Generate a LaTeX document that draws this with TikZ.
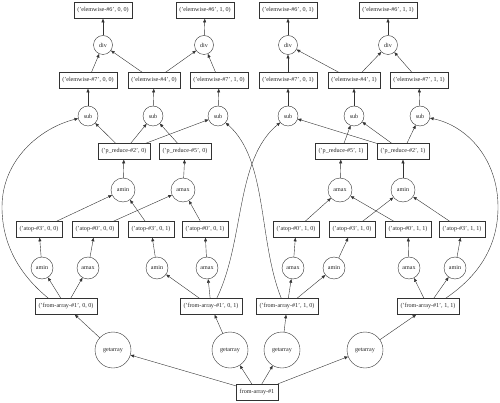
\documentclass[tikz,border=0pt]{standalone}
\usepackage{fontspec}
\setmainfont{Liberation Serif}
\usetikzlibrary{arrows.meta}
\begin{document}
\begin{tikzpicture}[x=1pt,y=-1pt,
  every node/.style={font=\fontsize{6.1}{7.3}\selectfont, draw=black!80, line width=0.4pt, text=black!85},
  box/.style={rectangle, inner xsep=3.5pt, inner ysep=0pt, minimum height=16pt},
  circ/.style={circle, inner sep=0pt, minimum size=#1},
  edge/.style={draw=black!80, line width=0.4pt, -{Triangle[length=3.6pt,width=3pt]}}]
\useasboundingbox (0,0) rectangle (500,403);
% top row
\node[box] (e6a) at (103,10.5) {('elemwise-\#6', 0, 0)};
\node[box] (e6b) at (205,10.5) {('elemwise-\#6', 1, 0)};
\node[box] (e6c) at (288,10.5) {('elemwise-\#6', 0, 1)};
\node[box] (e6d) at (388,10.5) {('elemwise-\#6', 1, 1)};
% div
\node[circ=19pt] (d1) at (103,45) {div};
\node[circ=19pt] (d2) at (204,45) {div};
\node[circ=19pt] (d3) at (288,45) {div};
\node[circ=19pt] (d4) at (388,45) {div};
% elemwise 7 / 4
\node[box] (e7a) at (88,80.5) {('elemwise-\#7', 0, 0)};
\node[box] (e4a) at (154,80.5) {('elemwise-\#4', 0)};
\node[box] (e7b) at (219,80.5) {('elemwise-\#7', 1, 0)};
\node[box] (e7c) at (288,80.5) {('elemwise-\#7', 0, 1)};
\node[box] (e4b) at (354,80.5) {('elemwise-\#4', 1)};
\node[box] (e7d) at (419,80.5) {('elemwise-\#7', 1, 1)};
% sub
\node[circ=20pt] (s1) at (88,116) {sub};
\node[circ=20pt] (s2) at (153,116) {sub};
\node[circ=20pt] (s3) at (218,116) {sub};
\node[circ=20pt] (s4) at (288,116) {sub};
\node[circ=20pt] (s5) at (354,116) {sub};
\node[circ=20pt] (s6) at (420,116) {sub};
% p_reduce
\node[box] (p2a) at (124,151.5) {('p\_reduce-\#2', 0)};
\node[box] (p5a) at (185,151.5) {('p\_reduce-\#5', 0)};
\node[box] (p5b) at (341,151.5) {('p\_reduce-\#5', 1)};
\node[box] (p2b) at (403,151.5) {('p\_reduce-\#2', 1)};
% upper amin/amax
\node[circ=24pt] (um1) at (123,190) {amin};
\node[circ=24pt] (ux1) at (183,190) {amax};
\node[circ=24pt] (ux2) at (340,190) {amax};
\node[circ=24pt] (um2) at (403,190) {amin};
% atop
\node[box] (t1) at (39,229.5) {('atop-\#3', 0, 0)};
\node[box] (t2) at (95,229.5) {('atop-\#0', 0, 0)};
\node[box] (t3) at (151,229.5) {('atop-\#3', 0, 1)};
\node[box] (t4) at (205,229.5) {('atop-\#0', 0, 1)};
\node[box] (t5) at (296,229.5) {('atop-\#0', 1, 0)};
\node[box] (t6) at (352,229.5) {('atop-\#3', 1, 0)};
\node[box] (t7) at (408,229.5) {('atop-\#0', 1, 1)};
\node[box] (t8) at (462,229.5) {('atop-\#3', 1, 1)};
% lower amin/amax
\node[circ=22pt] (l1) at (42,268) {amin};
\node[circ=22pt] (l2) at (88,268) {amax};
\node[circ=22pt] (l3) at (157,268) {amin};
\node[circ=22pt] (l4) at (207,268) {amax};
\node[circ=22pt] (l5) at (293,268) {amax};
\node[circ=22pt] (l6) at (334,268) {amin};
\node[circ=22pt] (l7) at (409,268) {amax};
\node[circ=22pt] (l8) at (455,268) {amin};
% from-array chunks
\node[box] (f1) at (66,306.5) {('from-array-\#1', 0, 0)};
\node[box] (f2) at (211,306.5) {('from-array-\#1', 0, 1)};
\node[box] (f3) at (287,306.5) {('from-array-\#1', 1, 0)};
\node[box] (f4) at (428,306.5) {('from-array-\#1', 1, 1)};
% getarray
\node[circ=36pt] (g1) at (113,350) {getarray};
\node[circ=36pt] (g2) at (230,350) {getarray};
\node[circ=36pt] (g3) at (282,350) {getarray};
\node[circ=36pt] (g4) at (365,350) {getarray};
% root
\node[box] (r) at (257,392) {from-array-\#1};
% edges
\foreach \a/\b in {r/g1,r/g2,r/g3,r/g4,g1/f1,g2/f2,g3/f3,g4/f4,
  f1/l1,f1/l2,f2/l3,f2/l4,f3/l5,f3/l6,f4/l7,f4/l8,
  l1/t1,l2/t2,l3/t3,l4/t4,l5/t5,l6/t6,l7/t7,l8/t8,
  t1/um1,t3/um1,t2/ux1,t4/ux1,t5/ux2,t7/ux2,t6/um2,t8/um2,
  um1/p2a,ux1/p5a,ux2/p5b,um2/p2b,
  p2a/s1,p2a/s2,p2a/s3,p5a/s2,p2b/s4,p2b/s5,p2b/s6,p5b/s5,
  s1/e7a,s2/e4a,s3/e7b,s4/e7c,s5/e4b,s6/e7d,
  e7a/d1,e4a/d1,e4a/d2,e7b/d2,e7c/d3,e4b/d3,e4b/d4,e7d/d4,
  d1/e6a,d2/e6b,d3/e6c,d4/e6d}
  \draw[edge] (\a) -- (\b);
% curved edges
\coordinate (cl) at (2,207);
\coordinate (cr) at (498,207);
\draw[edge] (f1.155) .. controls (20,275) and (2,245) .. (cl) .. controls (2,160) and (40,128) .. (s1);
\draw[edge] (f4.25) .. controls (480,275) and (498,245) .. (cr) .. controls (498,160) and (468,126) .. (s6);
\draw[edge] (f2.55) .. controls (245,240) and (235,160) .. (s4);
\draw[edge] (f3.125) .. controls (258,240) and (268,160) .. (s3);
\end{tikzpicture}
\end{document}
